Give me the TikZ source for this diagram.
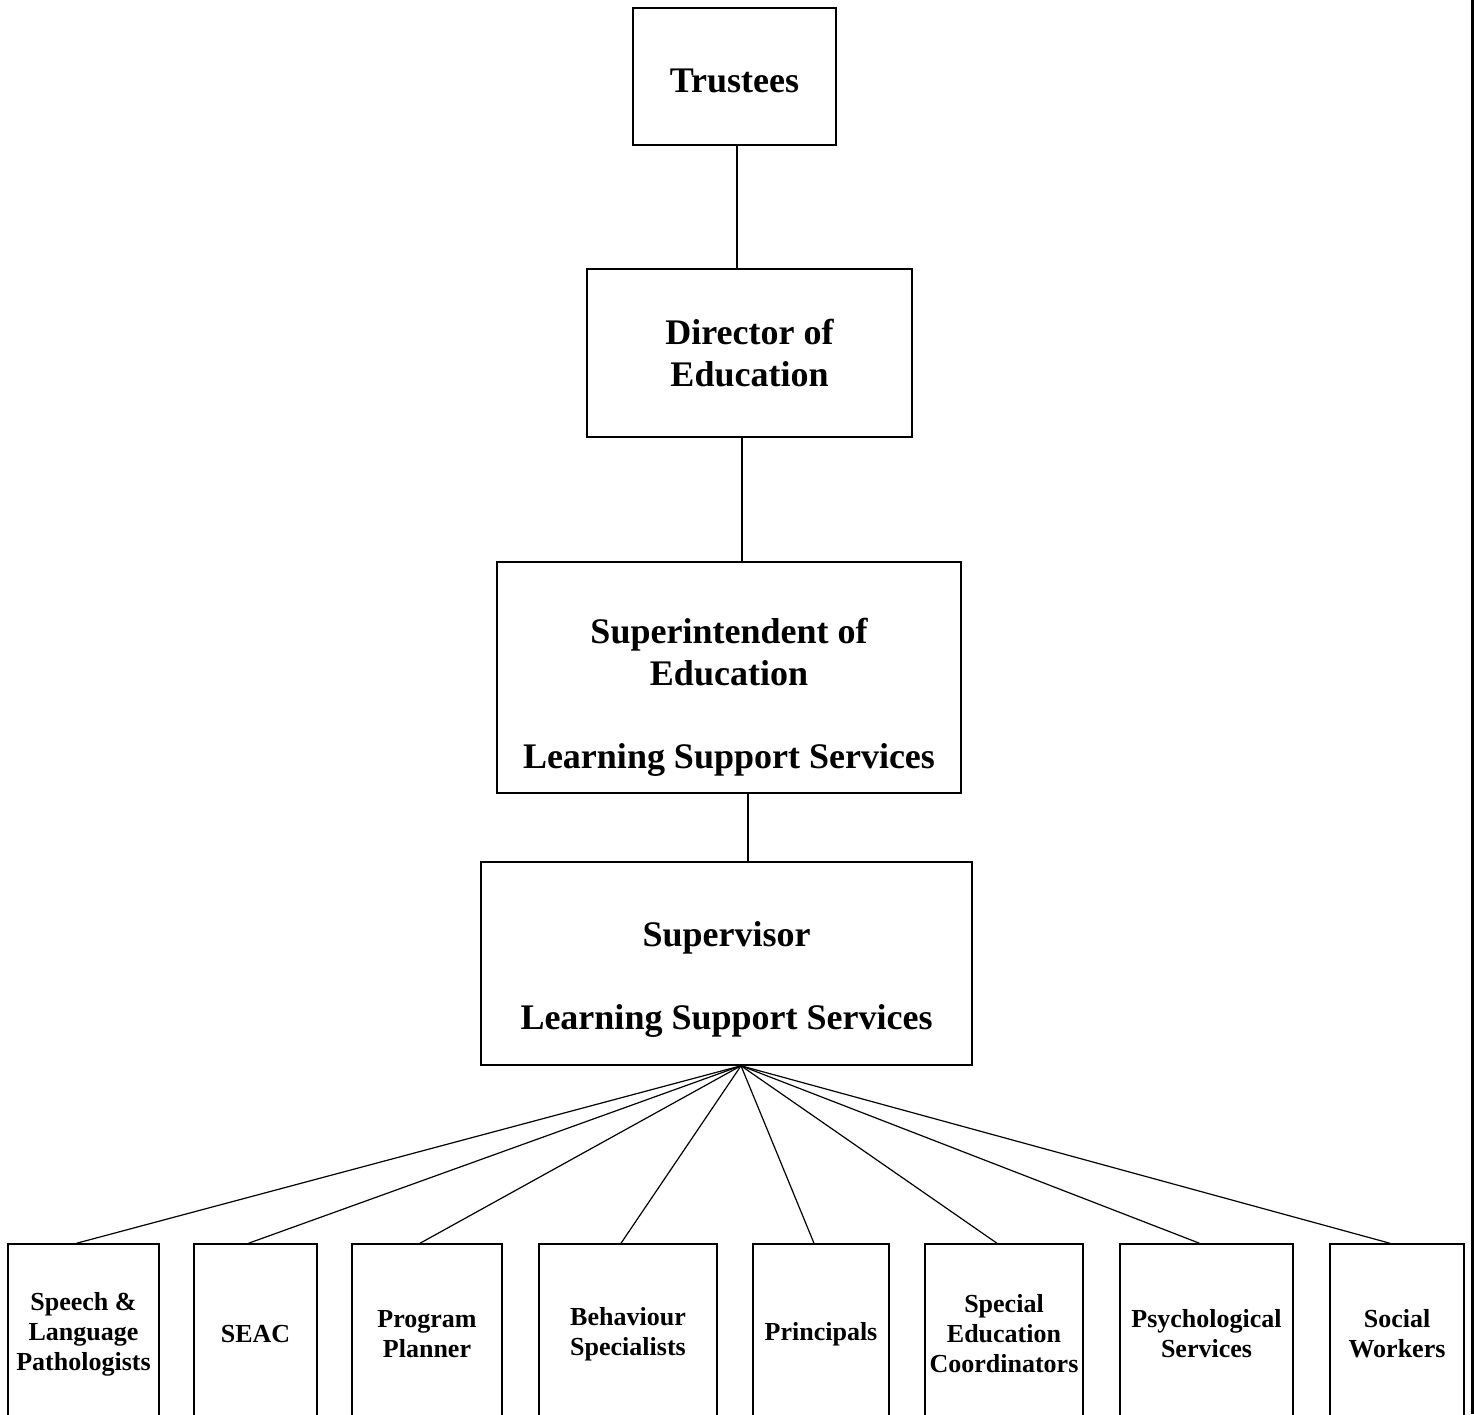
\documentclass[tikz,border=0pt]{standalone}
\usepackage{fontspec}
\setmainfont{Liberation Serif}
\usepackage{tikz}
\usetikzlibrary{positioning}
\tikzset{
  box/.style={rectangle, draw=black, line width=1.5pt, align=center, inner sep=0pt,
              font=\bfseries\fontsize{36}{42}\selectfont},
  boxtext/.style={align=center, inner sep=0pt, font=\bfseries\fontsize{36}{41.5}\selectfont},
  staff/.style={box, minimum height=180pt, font=\bfseries\fontsize{26}{30}\selectfont},
  link/.style={line width=1.2pt, black},
}
\begin{document}
\begin{tikzpicture}[x=1pt, y=-1pt]
\useasboundingbox (0,0) rectangle (1474,1414);
% management chain
\node[box, minimum width=203pt, minimum height=137pt] (trustees) at (734.5,76.5) {};
\node[boxtext] (trustees-txt) at (734.5,81) {Trustees};
\node[box, minimum width=325pt, minimum height=168pt] (director) at (749.5,353) {Director of\\Education};
\node[box, minimum width=464pt, minimum height=231pt] (supt) at (729,677.5) {};
\node[boxtext] (supt-txt) at (729,697.5)
  {Superintendent of\\Education\\[42pt]Learning Support Services};
\node[box, minimum width=491pt, minimum height=203pt] (super) at (726.5,963.5) {};
\node[boxtext] (super-txt) at (726.5,979.5)
  {Supervisor\\[42pt]Learning Support Services};
% staff row
\node[staff, minimum width=151pt] (slp) at (83.5,1334) {Speech \&\\Language\\Pathologists};
\node[staff, minimum width=123pt] (seac) at (255.5,1334) {SEAC};
\node[staff, minimum width=150pt] (planner) at (427,1334) {Program\\Planner};
\node[staff, minimum width=178pt] (behav) at (628,1334) {Behaviour\\Specialists};
\node[staff, minimum width=136pt] (princ) at (821,1334) {Principals};
\node[staff, minimum width=158pt] (coord) at (1004,1334) {Special\\Education\\Coordinators};
\node[staff, minimum width=173pt] (psych) at (1206.5,1334) {Psychological\\Services};
\node[staff, minimum width=134pt] (social) at (1397,1334) {Social\\Workers};
% connectors
\draw[link] ([xshift=2.5pt]trustees.south) -- ([xshift=2.5pt]trustees.south |- director.north);
\draw[link] ([xshift=-7.5pt]director.south) -- ([xshift=-7.5pt]director.south |- supt.north);
\draw[link] ([xshift=19pt]supt.south) -- ([xshift=19pt]supt.south |- super.north);
\coordinate (hub) at ([xshift=14.5pt]super.south);
\foreach \n in {slp, seac, planner, behav, princ, coord, psych, social}
  \draw[link] (hub) -- ([xshift=-7pt]\n.north);
% page rule on the right
\draw[line width=3pt] (1472.5,0) -- (1472.5,1414);
\end{tikzpicture}
\end{document}
